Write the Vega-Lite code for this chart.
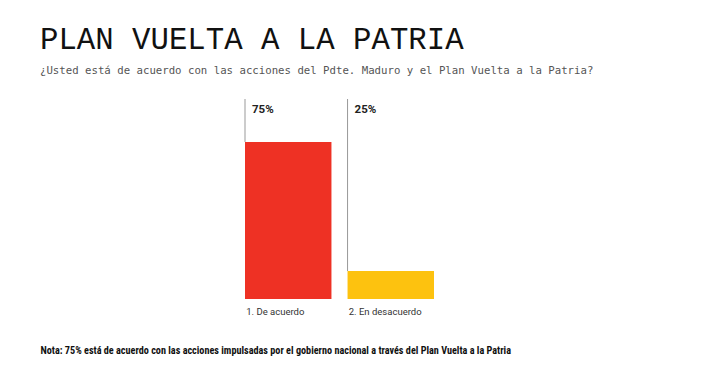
{
  "$schema": "https://vega.github.io/schema/vega-lite/v6.json",
  "autosize": "none",
  "width": 630,
  "height": 200,
  "padding": {"left": 40, "top": 99, "right": 40, "bottom": 87},
  "background": "white",
  "config": {"view": {"stroke": null}},
  "title": {
    "text": "PLAN VUELTA A LA PATRIA",
    "subtitle": "¿Usted está de acuerdo con las acciones del Pdte. Maduro y el Plan Vuelta a la Patria?",
    "anchor": "start",
    "frame": "group",
    "font": "Liberation Mono",
    "fontSize": 30.7,
    "fontWeight": "normal",
    "color": "#111111",
    "subtitleFont": "DejaVu Sans Mono",
    "subtitleFontSize": 10.7,
    "subtitleColor": "#555555",
    "subtitlePadding": 10,
    "offset": 22
  },
  "data": {
    "values": [
      {"categoria": "1. De acuerdo", "valor": 75, "etiqueta": "75%"},
      {"categoria": "2. En desacuerdo", "valor": 25, "etiqueta": "25%"}
    ]
  },
  "encoding": {
    "x": {
      "field": "categoria",
      "type": "nominal",
      "sort": null,
      "scale": {"range": [205, 394], "paddingInner": 0.157, "paddingOuter": 0},
      "axis": {
        "title": "Nota: 75% está de acuerdo con las acciones impulsadas por el gobierno nacional a través del Plan Vuelta a la Patria",
        "titleX": 0,
        "titleY": 54,
        "titleAnchor": "start",
        "titleAlign": "left",
        "titleBaseline": "alphabetic",
        "titleFont": "Liberation Sans Narrow, Roboto Condensed, Roboto",
        "titleFontSize": 10.2,
        "titleFontWeight": "bold",
        "titleColor": "#111111",
        "domain": false,
        "ticks": false,
        "labelAngle": 0,
        "labelAlign": "left",
        "labelOffset": -42,
        "labelPadding": 7,
        "labelFont": "Roboto",
        "labelFontSize": 9.5,
        "labelColor": "#333333"
      }
    }
  },
  "layer": [
    {
      "mark": {"type": "bar"},
      "encoding": {
        "y": {
          "field": "valor",
          "type": "quantitative",
          "scale": {"domain": [14.15, 91.65], "zero": false, "nice": false},
          "axis": null
        },
        "y2": {"datum": 14.15},
        "color": {
          "field": "categoria",
          "type": "nominal",
          "scale": {"range": ["#EE3124", "#FDC20F"]},
          "legend": null
        }
      }
    },
    {
      "mark": {"type": "rule", "color": "#999999", "strokeWidth": 1},
      "encoding": {
        "x": {"field": "categoria", "type": "nominal", "sort": null, "bandPosition": 0},
        "y": {"field": "valor", "type": "quantitative"},
        "y2": {"datum": 91.65}
      }
    },
    {
      "mark": {"type": "text", "align": "left", "baseline": "top", "dx": 7, "dy": 5, "font": "Roboto", "fontWeight": "bold", "fontSize": 11.5, "color": "#222222"},
      "encoding": {
        "x": {"field": "categoria", "type": "nominal", "sort": null, "bandPosition": 0},
        "y": {"datum": 91.65},
        "text": {"field": "etiqueta"}
      }
    }
  ]
}
